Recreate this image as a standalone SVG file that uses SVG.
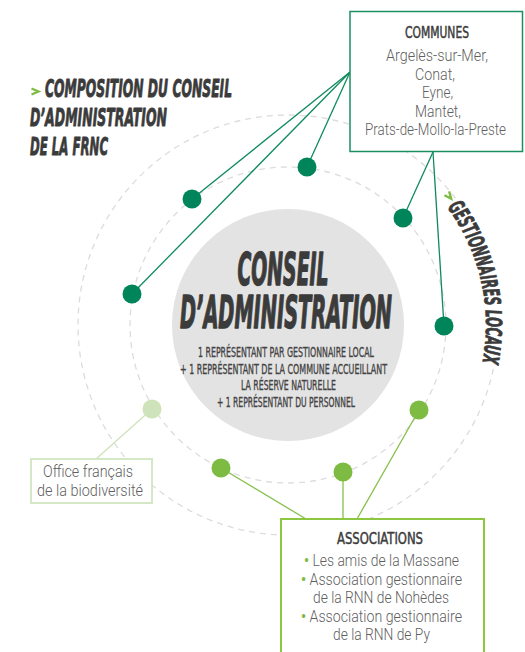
<svg xmlns="http://www.w3.org/2000/svg" width="525" height="652" viewBox="0 0 525 652">
<defs>
<style>
.dash{fill:none;stroke:#dcdcdc;stroke-width:1.3;stroke-dasharray:6 5}
.hvy{font-family:"DejaVu Sans","Liberation Sans",sans-serif;font-stretch:condensed;font-weight:700;font-style:italic;fill:#3b3b3b;stroke:#3b3b3b;stroke-linejoin:round}
.cap{font-family:"DejaVu Sans","Liberation Sans",sans-serif;font-stretch:condensed;font-weight:400;fill:#444;stroke:#444;stroke-width:0.35;font-size:14px}
.hd{font-family:"DejaVu Sans","Liberation Sans",sans-serif;font-stretch:condensed;font-weight:400;fill:#3b3b3b;stroke:#3b3b3b;stroke-width:0.45;font-size:15.5px}
.nm{font-family:Roboto,"Liberation Sans",sans-serif;font-weight:300;fill:#5f5f5f;font-size:16.5px}
.dk{stroke:#0f8a5f;stroke-width:1.3;fill:none}
.lt{stroke:#86c04a;stroke-width:1.3;fill:none}
.dkdot{fill:#00855a}
.ltdot{fill:#7dbb42}
.chev{fill:none;stroke:#7dbb42;stroke-width:2.3}
.bul{fill:#7dbb42;font-weight:700}
</style>
<path id="arcG" d="M447.2,207.2 A198,198 0 0 1 480.1,372.9"/>
</defs>
<rect width="525" height="652" fill="#fff"/>

<g id="rings">
<circle class="dash" cx="288" cy="325" r="210"/>
<circle class="dash" cx="288" cy="325" r="158"/>
<path d="M455.7,198.6 A210,210 0 0 1 493.4,368.7" fill="none" stroke="#fff" stroke-width="4"/>
</g>

<g id="title">
<polyline class="chev" points="31.5,88.5 38.5,91.5 31.5,94.5"/>
<text class="hvy" font-size="25.5" stroke-width="0.9" x="45" y="97" textLength="187" lengthAdjust="spacingAndGlyphs">COMPOSITION DU CONSEIL</text>
<text class="hvy" font-size="25.5" stroke-width="0.9" x="30" y="126" textLength="137" lengthAdjust="spacingAndGlyphs">D’ADMINISTRATION</text>
<text class="hvy" font-size="25.5" stroke-width="0.9" x="30" y="155" textLength="78" lengthAdjust="spacingAndGlyphs">DE LA FRNC</text>
</g>

<g id="gestionnaires-locaux">
<polyline class="chev" transform="translate(449,196) rotate(51)" points="-3.5,-3 3.5,0 -3.5,3"/>
<text class="hvy" font-size="22" stroke-width="0.8"><textPath href="#arcG" textLength="164" lengthAdjust="spacingAndGlyphs">GESTIONNAIRES LOCAUX</textPath></text>
</g>

<g id="conseil">
<circle cx="288" cy="325" r="116" fill="#e3e3e3"/>
<text class="hvy" font-size="45" stroke-width="1.4" x="283" y="285" text-anchor="middle" textLength="91" lengthAdjust="spacingAndGlyphs">CONSEIL</text>
<text class="hvy" font-size="45" stroke-width="1.4" x="286" y="328" text-anchor="middle" textLength="212" lengthAdjust="spacingAndGlyphs">D’ADMINISTRATION</text>
<text class="cap" x="286" y="357" text-anchor="middle" textLength="176" lengthAdjust="spacingAndGlyphs">1 REPRÉSENTANT PAR GESTIONNAIRE LOCAL</text>
<text class="cap" x="283.5" y="374" text-anchor="middle" textLength="207" lengthAdjust="spacingAndGlyphs">+ 1 REPRÉSENTANT DE LA COMMUNE ACCUEILLANT</text>
<text class="cap" x="288.5" y="390" text-anchor="middle" textLength="95" lengthAdjust="spacingAndGlyphs">LA RÉSERVE NATURELLE</text>
<text class="cap" x="286" y="407" text-anchor="middle" textLength="138" lengthAdjust="spacingAndGlyphs">+ 1 REPRÉSENTANT DU PERSONNEL</text>
</g>

<g id="connectors">
<line class="dk" x1="350" y1="72" x2="192" y2="199"/>
<line class="dk" x1="350" y1="72" x2="132" y2="294"/>
<line class="dk" x1="350" y1="72" x2="307" y2="167"/>
<line class="dk" x1="433" y1="152" x2="403" y2="218"/>
<line class="dk" x1="433" y1="152" x2="444" y2="326"/>
<line class="lt" x1="221" y1="468" x2="306" y2="519"/>
<line class="lt" x1="343" y1="472" x2="343" y2="519"/>
<line class="lt" x1="419" y1="410" x2="357" y2="519"/>
<line x1="152" y1="409" x2="96" y2="459" stroke="#cfe3bb" stroke-width="1.3"/>
<circle class="dkdot" cx="192" cy="199" r="9.5"/>
<circle class="dkdot" cx="132" cy="294" r="9.5"/>
<circle class="dkdot" cx="307" cy="167" r="9.5"/>
<circle class="dkdot" cx="403" cy="218" r="9.5"/>
<circle class="dkdot" cx="444" cy="326" r="9.5"/>
<circle cx="152" cy="409" r="9.5" fill="#cfe3bb"/>
<circle class="ltdot" cx="221" cy="468" r="9.5"/>
<circle class="ltdot" cx="343" cy="472" r="9.5"/>
<circle class="ltdot" cx="419" cy="410" r="9.5"/>
</g>

<g id="communes">
<rect x="350" y="11.5" width="172.5" height="140" fill="#fff" stroke="#1a8f62" stroke-width="1.5"/>
<text class="hd" x="437" y="37.5" text-anchor="middle" textLength="64" lengthAdjust="spacingAndGlyphs">COMMUNES</text>
<text class="nm" x="437" y="61" text-anchor="middle" textLength="102" lengthAdjust="spacingAndGlyphs">Argelès-sur-Mer,</text>
<text class="nm" x="435" y="79.5" text-anchor="middle" textLength="40" lengthAdjust="spacingAndGlyphs">Conat,</text>
<text class="nm" x="437.5" y="98" text-anchor="middle" textLength="31" lengthAdjust="spacingAndGlyphs">Eyne,</text>
<text class="nm" x="438" y="116.5" text-anchor="middle" textLength="46" lengthAdjust="spacingAndGlyphs">Mantet,</text>
<text class="nm" x="435.5" y="135" text-anchor="middle" textLength="141" lengthAdjust="spacingAndGlyphs">Prats-de-Mollo-la-Preste</text>
</g>

<g id="ofb">
<rect x="31" y="459" width="121" height="44" fill="#fff" stroke="#d5e8c5" stroke-width="2"/>
<text class="nm" x="88" y="477" text-anchor="middle" textLength="90" lengthAdjust="spacingAndGlyphs">Office français</text>
<text class="nm" x="90" y="496" text-anchor="middle" textLength="106" lengthAdjust="spacingAndGlyphs">de la biodiversité</text>
</g>

<g id="associations">
<rect x="281" y="519" width="203" height="140" fill="#fff" stroke="#8dc63f" stroke-width="2"/>
<text class="hd" x="380" y="543.5" text-anchor="middle" textLength="86" lengthAdjust="spacingAndGlyphs">ASSOCIATIONS</text>
<text class="nm" x="381.5" y="566" text-anchor="middle" textLength="155" lengthAdjust="spacingAndGlyphs"><tspan class="bul">•</tspan> Les amis de la Massane</text>
<text class="nm" x="381.5" y="585" text-anchor="middle" textLength="161" lengthAdjust="spacingAndGlyphs"><tspan class="bul">•</tspan> Association gestionnaire</text>
<text class="nm" x="381" y="603" text-anchor="middle" textLength="136" lengthAdjust="spacingAndGlyphs">de la RNN de Nohèdes</text>
<text class="nm" x="381.5" y="622" text-anchor="middle" textLength="161" lengthAdjust="spacingAndGlyphs"><tspan class="bul">•</tspan> Association gestionnaire</text>
<text class="nm" x="381.5" y="640" text-anchor="middle" textLength="97" lengthAdjust="spacingAndGlyphs">de la RNN de Py</text>
</g>
</svg>
